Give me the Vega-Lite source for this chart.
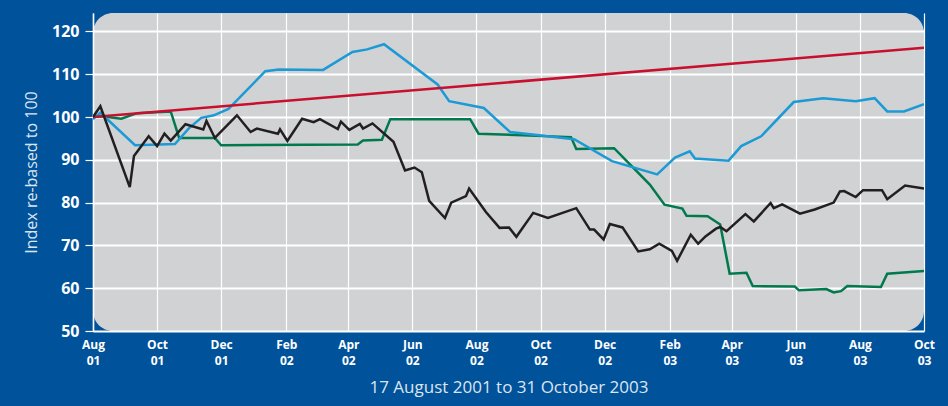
{
  "$schema": "https://vega.github.io/schema/vega-lite/v6.json",
  "width": 831,
  "height": 318,
  "autosize": "none",
  "padding": {"left": 93, "top": 13, "right": 24, "bottom": 75},
  "background": "#00529b",
  "config": {
    "view": {"fill": "#d1d2d4", "stroke": null, "cornerRadius": 20},
    "font": "Open Sans"
  },
  "data": {
    "values": [
      {"series": "Green", "date": "2001/08/01", "value": 100.0},
      {"series": "Green", "date": "2001/08/09", "value": 100.2},
      {"series": "Green", "date": "2001/08/28", "value": 99.6},
      {"series": "Green", "date": "2001/09/12", "value": 100.9},
      {"series": "Green", "date": "2001/10/14", "value": 101.3},
      {"series": "Green", "date": "2001/10/22", "value": 95.1},
      {"series": "Green", "date": "2001/11/25", "value": 95.1},
      {"series": "Green", "date": "2001/12/01", "value": 93.4},
      {"series": "Green", "date": "2002/04/10", "value": 93.6},
      {"series": "Green", "date": "2002/04/15", "value": 94.5},
      {"series": "Green", "date": "2002/05/03", "value": 94.7},
      {"series": "Green", "date": "2002/05/11", "value": 99.5},
      {"series": "Green", "date": "2002/07/26", "value": 99.5},
      {"series": "Green", "date": "2002/08/03", "value": 96.1},
      {"series": "Green", "date": "2002/10/30", "value": 95.3},
      {"series": "Green", "date": "2002/11/04", "value": 92.5},
      {"series": "Green", "date": "2002/12/10", "value": 92.7},
      {"series": "Green", "date": "2003/01/13", "value": 84.2},
      {"series": "Green", "date": "2003/01/27", "value": 79.5},
      {"series": "Green", "date": "2003/02/13", "value": 78.6},
      {"series": "Green", "date": "2003/02/17", "value": 76.9},
      {"series": "Green", "date": "2003/03/09", "value": 76.8},
      {"series": "Green", "date": "2003/03/21", "value": 74.9},
      {"series": "Green", "date": "2003/03/30", "value": 63.4},
      {"series": "Green", "date": "2003/04/15", "value": 63.6},
      {"series": "Green", "date": "2003/04/21", "value": 60.5},
      {"series": "Green", "date": "2003/05/31", "value": 60.4},
      {"series": "Green", "date": "2003/06/04", "value": 59.5},
      {"series": "Green", "date": "2003/06/30", "value": 59.8},
      {"series": "Green", "date": "2003/07/07", "value": 59.0},
      {"series": "Green", "date": "2003/07/14", "value": 59.3},
      {"series": "Green", "date": "2003/07/20", "value": 60.5},
      {"series": "Green", "date": "2003/08/21", "value": 60.3},
      {"series": "Green", "date": "2003/08/27", "value": 63.4},
      {"series": "Green", "date": "2003/10/01", "value": 64.0},

      {"series": "Blue", "date": "2001/08/01", "value": 99.5},
      {"series": "Blue", "date": "2001/08/08", "value": 101.0},
      {"series": "Blue", "date": "2001/09/10", "value": 93.4},
      {"series": "Blue", "date": "2001/10/18", "value": 93.7},
      {"series": "Blue", "date": "2001/10/31", "value": 97.3},
      {"series": "Blue", "date": "2001/11/12", "value": 99.8},
      {"series": "Blue", "date": "2001/11/24", "value": 100.4},
      {"series": "Blue", "date": "2001/12/08", "value": 101.9},
      {"series": "Blue", "date": "2002/01/12", "value": 110.7},
      {"series": "Blue", "date": "2002/01/25", "value": 111.1},
      {"series": "Blue", "date": "2002/03/08", "value": 111.0},
      {"series": "Blue", "date": "2002/04/05", "value": 115.2},
      {"series": "Blue", "date": "2002/04/19", "value": 115.8},
      {"series": "Blue", "date": "2002/05/05", "value": 117.0},
      {"series": "Blue", "date": "2002/06/25", "value": 107.6},
      {"series": "Blue", "date": "2002/07/06", "value": 103.7},
      {"series": "Blue", "date": "2002/08/08", "value": 102.1},
      {"series": "Blue", "date": "2002/09/02", "value": 96.5},
      {"series": "Blue", "date": "2002/11/02", "value": 94.8},
      {"series": "Blue", "date": "2002/12/08", "value": 89.7},
      {"series": "Blue", "date": "2003/01/20", "value": 86.6},
      {"series": "Blue", "date": "2003/02/06", "value": 90.5},
      {"series": "Blue", "date": "2003/02/20", "value": 92.0},
      {"series": "Blue", "date": "2003/02/25", "value": 90.3},
      {"series": "Blue", "date": "2003/03/29", "value": 89.8},
      {"series": "Blue", "date": "2003/04/10", "value": 93.2},
      {"series": "Blue", "date": "2003/04/29", "value": 95.5},
      {"series": "Blue", "date": "2003/05/30", "value": 103.5},
      {"series": "Blue", "date": "2003/06/27", "value": 104.4},
      {"series": "Blue", "date": "2003/07/28", "value": 103.7},
      {"series": "Blue", "date": "2003/08/15", "value": 104.4},
      {"series": "Blue", "date": "2003/08/27", "value": 101.3},
      {"series": "Blue", "date": "2003/09/12", "value": 101.3},
      {"series": "Blue", "date": "2003/10/01", "value": 103.0},

      {"series": "Red", "date": "2001/08/01", "value": 100.0},
      {"series": "Red", "date": "2003/10/01", "value": 116.2},

      {"series": "Black", "date": "2001/08/01", "value": 100.0},
      {"series": "Black", "date": "2001/08/08", "value": 102.5},
      {"series": "Black", "date": "2001/09/05", "value": 83.6},
      {"series": "Black", "date": "2001/09/09", "value": 90.9},
      {"series": "Black", "date": "2001/09/23", "value": 95.5},
      {"series": "Black", "date": "2001/10/01", "value": 93.2},
      {"series": "Black", "date": "2001/10/08", "value": 96.1},
      {"series": "Black", "date": "2001/10/14", "value": 94.5},
      {"series": "Black", "date": "2001/10/28", "value": 98.3},
      {"series": "Black", "date": "2001/11/14", "value": 97.1},
      {"series": "Black", "date": "2001/11/17", "value": 99.1},
      {"series": "Black", "date": "2001/11/25", "value": 95.1},
      {"series": "Black", "date": "2001/12/16", "value": 100.4},
      {"series": "Black", "date": "2001/12/29", "value": 96.5},
      {"series": "Black", "date": "2002/01/04", "value": 97.3},
      {"series": "Black", "date": "2002/01/24", "value": 96.1},
      {"series": "Black", "date": "2002/01/26", "value": 97.1},
      {"series": "Black", "date": "2002/02/02", "value": 94.4},
      {"series": "Black", "date": "2002/02/16", "value": 99.6},
      {"series": "Black", "date": "2002/02/27", "value": 98.8},
      {"series": "Black", "date": "2002/03/05", "value": 99.5},
      {"series": "Black", "date": "2002/03/22", "value": 97.2},
      {"series": "Black", "date": "2002/03/25", "value": 98.9},
      {"series": "Black", "date": "2002/04/02", "value": 97.0},
      {"series": "Black", "date": "2002/04/12", "value": 98.4},
      {"series": "Black", "date": "2002/04/15", "value": 97.3},
      {"series": "Black", "date": "2002/04/24", "value": 98.5},
      {"series": "Black", "date": "2002/05/14", "value": 94.2},
      {"series": "Black", "date": "2002/05/25", "value": 87.5},
      {"series": "Black", "date": "2002/06/03", "value": 88.2},
      {"series": "Black", "date": "2002/06/10", "value": 87.1},
      {"series": "Black", "date": "2002/06/17", "value": 80.4},
      {"series": "Black", "date": "2002/07/02", "value": 76.4},
      {"series": "Black", "date": "2002/07/08", "value": 80.0},
      {"series": "Black", "date": "2002/07/22", "value": 81.5},
      {"series": "Black", "date": "2002/07/25", "value": 83.3},
      {"series": "Black", "date": "2002/08/10", "value": 77.8},
      {"series": "Black", "date": "2002/08/23", "value": 74.1},
      {"series": "Black", "date": "2002/09/01", "value": 74.2},
      {"series": "Black", "date": "2002/09/08", "value": 72.0},
      {"series": "Black", "date": "2002/09/24", "value": 77.6},
      {"series": "Black", "date": "2002/10/08", "value": 76.4},
      {"series": "Black", "date": "2002/11/04", "value": 78.7},
      {"series": "Black", "date": "2002/11/17", "value": 73.7},
      {"series": "Black", "date": "2002/11/21", "value": 73.7},
      {"series": "Black", "date": "2002/11/30", "value": 71.4},
      {"series": "Black", "date": "2002/12/06", "value": 75.0},
      {"series": "Black", "date": "2002/12/18", "value": 74.2},
      {"series": "Black", "date": "2003/01/02", "value": 68.6},
      {"series": "Black", "date": "2003/01/13", "value": 69.1},
      {"series": "Black", "date": "2003/01/22", "value": 70.4},
      {"series": "Black", "date": "2003/02/03", "value": 68.7},
      {"series": "Black", "date": "2003/02/08", "value": 66.4},
      {"series": "Black", "date": "2003/02/21", "value": 72.5},
      {"series": "Black", "date": "2003/02/28", "value": 70.4},
      {"series": "Black", "date": "2003/03/07", "value": 72.1},
      {"series": "Black", "date": "2003/03/17", "value": 73.9},
      {"series": "Black", "date": "2003/03/21", "value": 74.3},
      {"series": "Black", "date": "2003/03/27", "value": 73.3},
      {"series": "Black", "date": "2003/04/14", "value": 77.3},
      {"series": "Black", "date": "2003/04/22", "value": 75.6},
      {"series": "Black", "date": "2003/05/08", "value": 79.9},
      {"series": "Black", "date": "2003/05/11", "value": 78.7},
      {"series": "Black", "date": "2003/05/19", "value": 79.6},
      {"series": "Black", "date": "2003/06/05", "value": 77.4},
      {"series": "Black", "date": "2003/06/19", "value": 78.4},
      {"series": "Black", "date": "2003/07/07", "value": 80.0},
      {"series": "Black", "date": "2003/07/13", "value": 82.6},
      {"series": "Black", "date": "2003/07/17", "value": 82.7},
      {"series": "Black", "date": "2003/07/28", "value": 81.3},
      {"series": "Black", "date": "2003/08/04", "value": 82.9},
      {"series": "Black", "date": "2003/08/22", "value": 82.9},
      {"series": "Black", "date": "2003/08/27", "value": 80.8},
      {"series": "Black", "date": "2003/09/13", "value": 84.0},
      {"series": "Black", "date": "2003/10/01", "value": 83.3}
    ]
  },
  "mark": {"type": "line", "strokeWidth": 2.5, "clip": true},
  "encoding": {
    "x": {
      "field": "date",
      "type": "temporal",
      "scale": {"domain": [{"year": 2001, "month": 8, "date": 1}, {"year": 2003, "month": 10, "date": 1}]},
      "axis": {
        "title": "17 August 2001 to 31 October 2003",
        "titleColor": "#dde5f0",
        "titleFontSize": 17,
        "titleFontWeight": "normal",
        "titlePadding": 13,
        "values": [
          {"year": 2001, "month": 8, "date": 1},
          {"year": 2001, "month": 10, "date": 1},
          {"year": 2001, "month": 12, "date": 1},
          {"year": 2002, "month": 2, "date": 1},
          {"year": 2002, "month": 4, "date": 1},
          {"year": 2002, "month": 6, "date": 1},
          {"year": 2002, "month": 8, "date": 1},
          {"year": 2002, "month": 10, "date": 1},
          {"year": 2002, "month": 12, "date": 1},
          {"year": 2003, "month": 2, "date": 1},
          {"year": 2003, "month": 4, "date": 1},
          {"year": 2003, "month": 6, "date": 1},
          {"year": 2003, "month": 8, "date": 1},
          {"year": 2003, "month": 10, "date": 1}
        ],
        "labelExpr": "[timeFormat(datum.value, '%b'), timeFormat(datum.value, '%y')]",
        "labelColor": "#ffffff",
        "labelFontSize": 12,
        "labelFontWeight": "bold",
        "labelLineHeight": 16,
        "labelPadding": 8,
        "labelFlush": false,
        "labelOverlap": false,
        "ticks": false,
        "domain": false,
        "grid": true,
        "gridColor": "#ffffff",
        "gridWidth": 1.2,
        "gridOpacity": 1
      }
    },
    "y": {
      "field": "value",
      "type": "quantitative",
      "scale": {"domain": [50, 124.3], "nice": false, "zero": false},
      "axis": {
        "title": "Index re-based to 100",
        "titleColor": "#dde5f0",
        "titleFontSize": 16,
        "titleFontWeight": "normal",
        "titlePadding": 12,
        "values": [50, 60, 70, 80, 90, 100, 110, 120],
        "labelColor": "#ffffff",
        "labelFontSize": 16,
        "labelFontWeight": "bold",
        "labelPadding": 6,
        "tickColor": "#ffffff",
        "tickSize": 8,
        "tickWidth": 1.2,
        "domain": true,
        "domainColor": "#ffffff",
        "domainWidth": 1.5,
        "grid": true,
        "gridColor": "#ffffff",
        "gridWidth": 2,
        "gridOpacity": 1
      }
    },
    "color": {
      "field": "series",
      "type": "nominal",
      "scale": {
        "domain": ["Green", "Blue", "Red", "Black"],
        "range": ["#00794c", "#1b9ad6", "#c8102e", "#231f20"]
      },
      "legend": null
    },
    "order": {"field": "date", "type": "temporal"}
  }
}
